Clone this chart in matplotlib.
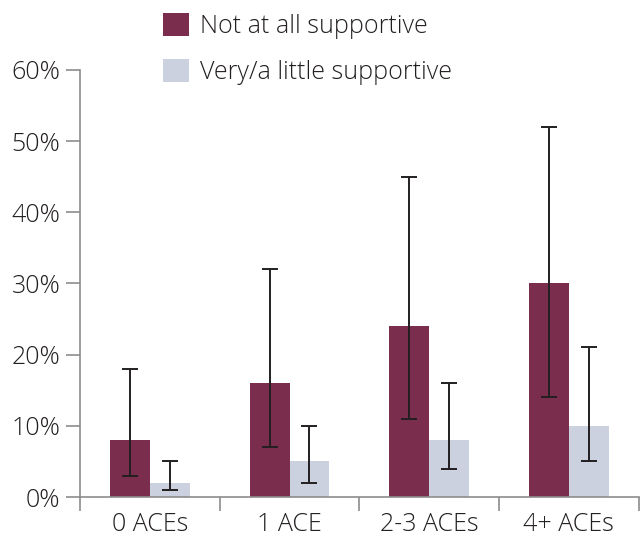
import numpy as np
import matplotlib.pyplot as plt
from matplotlib.ticker import PercentFormatter

plt.rcParams['font.family'] = ['Open Sans', 'DejaVu Sans']
plt.rcParams['font.weight'] = 'light'

# Data
categories = ["0 ACEs", "1 ACE", "2-3 ACEs", "4+ ACEs"]
not_supportive = [8, 16, 24, 30]
not_low = [3, 7, 11, 14]
not_high = [18, 32, 45, 52]
very_supportive = [2, 5, 8, 10]
very_low = [1, 2, 4, 5]
very_high = [5, 10, 16, 21]

maroon = "#7b2d4d"
grey = "#cbd1de"

fig = plt.figure(figsize=(6.4, 5.38), dpi=100)
ax = fig.add_axes([0.125, 0.0762, 0.873, 0.794])

x = np.arange(len(categories))
w = 0.286

nv = np.array(not_supportive)
vv = np.array(very_supportive)
err1 = [nv - np.array(not_low), np.array(not_high) - nv]
err2 = [vv - np.array(very_low), np.array(very_high) - vv]

ax.bar(x - w / 2, nv, w, color=maroon, label="Not at all supportive")
ax.bar(x + w / 2, vv, w, color=grey, label="Very/a little supportive")
ax.errorbar(x - w / 2, nv, yerr=err1, fmt="none", ecolor="#231f20",
            elinewidth=1.4, capsize=5.8, capthick=1.4)
ax.errorbar(x + w / 2, vv, yerr=err2, fmt="none", ecolor="#231f20",
            elinewidth=1.4, capsize=5.8, capthick=1.4)

ax.set_ylim(0, 60)
ax.set_xlim(-0.5, 3.5)
ax.set_yticks(range(0, 61, 10))
ax.yaxis.set_major_formatter(PercentFormatter(decimals=0))
ax.set_xticks(x)
ax.set_xticklabels(categories)
ax.set_xticks(np.arange(-0.5, 4, 1), minor=True)

for s in ["top", "right"]:
    ax.spines[s].set_visible(False)
for s in ["left", "bottom"]:
    ax.spines[s].set_color("#8c8c8c")
    ax.spines[s].set_linewidth(1.2)

ax.tick_params(axis="y", length=10, width=1.2, color="#8c8c8c",
               labelsize=18, labelcolor="#231f20", pad=4)
ax.tick_params(axis="x", which="major", length=0, labelsize=18,
               labelcolor="#231f20", pad=11)
ax.tick_params(axis="x", which="minor", length=10, width=1.2, color="#8c8c8c")

leg = fig.legend(loc="upper left", bbox_to_anchor=(0.22, 1.017), frameon=False,
                 fontsize=18, handlelength=1.02, handleheight=1.02,
                 labelspacing=0.8, handletextpad=0.45, labelcolor="#231f20")

fig.savefig("out.png", dpi=100)
